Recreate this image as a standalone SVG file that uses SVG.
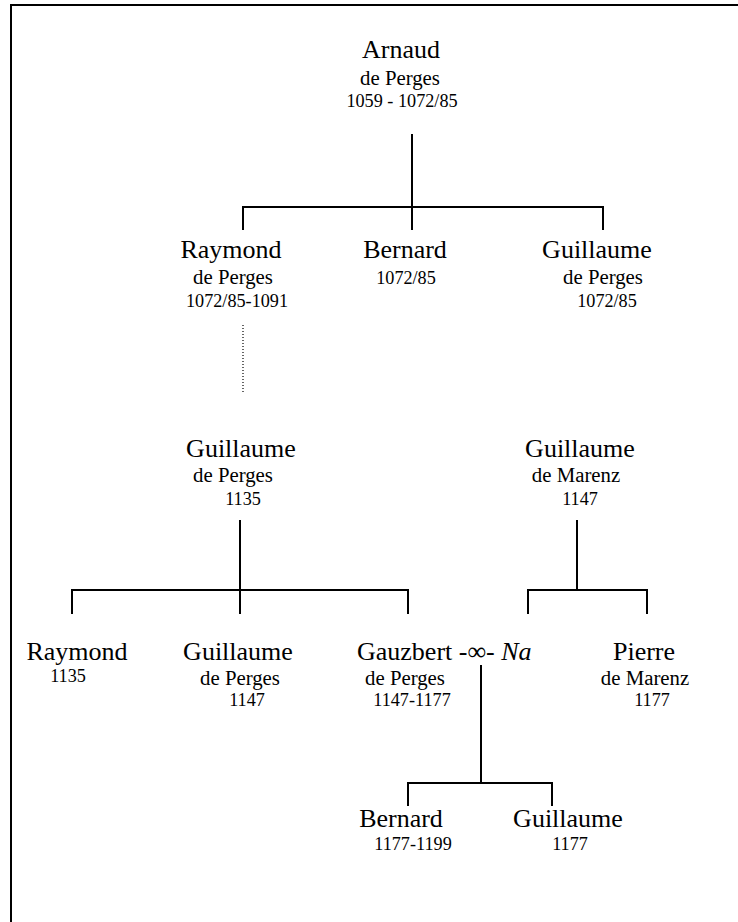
<svg xmlns="http://www.w3.org/2000/svg" width="738" height="922" viewBox="0 0 738 922">
  <style>
    text { font-family: "Liberation Serif", "Times New Roman", serif; fill: #000; text-anchor: middle; }
    .name { font-size: 26px; }
    .house { font-size: 20.8px; }
    .date { font-size: 18.2px; }
    .link { stroke: #000; stroke-width: 2; fill: none; }
    .uncertain { stroke: #000; stroke-width: 1.2; stroke-dasharray: 1 2; fill: none; }
  </style>
  <rect width="738" height="922" fill="#fff"/>
  <!-- frame: top and left edges -->
  <path class="link" d="M11 922 V5 H738"/>

  <g id="connectors">
    <path class="link" d="M412 134 V207"/>
    <path class="link" d="M243 230 V207 H603 V230 M412 207 V230"/>
    <path class="uncertain" d="M243 325 V392"/>
    <path class="link" d="M240 520 V590"/>
    <path class="link" d="M72 614 V590 H408 V614 M240 590 V614"/>
    <path class="link" d="M577 520 V590"/>
    <path class="link" d="M528 614 V590 H647 V614"/>
    <path class="link" d="M481 665 V783"/>
    <path class="link" d="M408 806 V783 H552 V806"/>
  </g>

  <g id="arnaud">
    <text class="name" x="401" y="58">Arnaud</text>
    <text class="house" x="400" y="85">de Perges</text>
    <text class="date" x="402" y="107">1059 - 1072/85</text>
  </g>
  <g id="raymond-1">
    <text class="name" x="231" y="258">Raymond</text>
    <text class="house" x="233" y="284">de Perges</text>
    <text class="date" x="237" y="307">1072/85-1091</text>
  </g>
  <g id="bernard-1">
    <text class="name" x="405" y="258">Bernard</text>
    <text class="date" x="406" y="284">1072/85</text>
  </g>
  <g id="guillaume-1">
    <text class="name" x="597" y="258">Guillaume</text>
    <text class="house" x="603" y="284">de Perges</text>
    <text class="date" x="607" y="307">1072/85</text>
  </g>
  <g id="guillaume-perges-1135">
    <text class="name" x="241" y="457">Guillaume</text>
    <text class="house" x="233" y="482">de Perges</text>
    <text class="date" x="243" y="505">1135</text>
  </g>
  <g id="guillaume-marenz">
    <text class="name" x="580" y="457">Guillaume</text>
    <text class="house" x="576" y="482">de Marenz</text>
    <text class="date" x="580" y="505">1147</text>
  </g>
  <g id="raymond-2">
    <text class="name" x="77" y="660">Raymond</text>
    <text class="date" x="68" y="682">1135</text>
  </g>
  <g id="guillaume-perges-1147">
    <text class="name" x="238" y="660">Guillaume</text>
    <text class="house" x="240" y="685">de Perges</text>
    <text class="date" x="247" y="706">1147</text>
  </g>
  <g id="gauzbert">
    <text class="name" x="357" y="660" style="text-anchor:start">Gauzbert -∞- <tspan font-style="italic">Na</tspan></text>
    <text class="house" x="405" y="685">de Perges</text>
    <text class="date" x="412" y="706">1147-1177</text>
  </g>
  <g id="pierre">
    <text class="name" x="644" y="660">Pierre</text>
    <text class="house" x="645" y="685">de Marenz</text>
    <text class="date" x="652" y="706">1177</text>
  </g>
  <g id="bernard-2">
    <text class="name" x="401" y="827">Bernard</text>
    <text class="date" x="413" y="850">1177-1199</text>
  </g>
  <g id="guillaume-2">
    <text class="name" x="568" y="827">Guillaume</text>
    <text class="date" x="570" y="850">1177</text>
  </g>
</svg>
